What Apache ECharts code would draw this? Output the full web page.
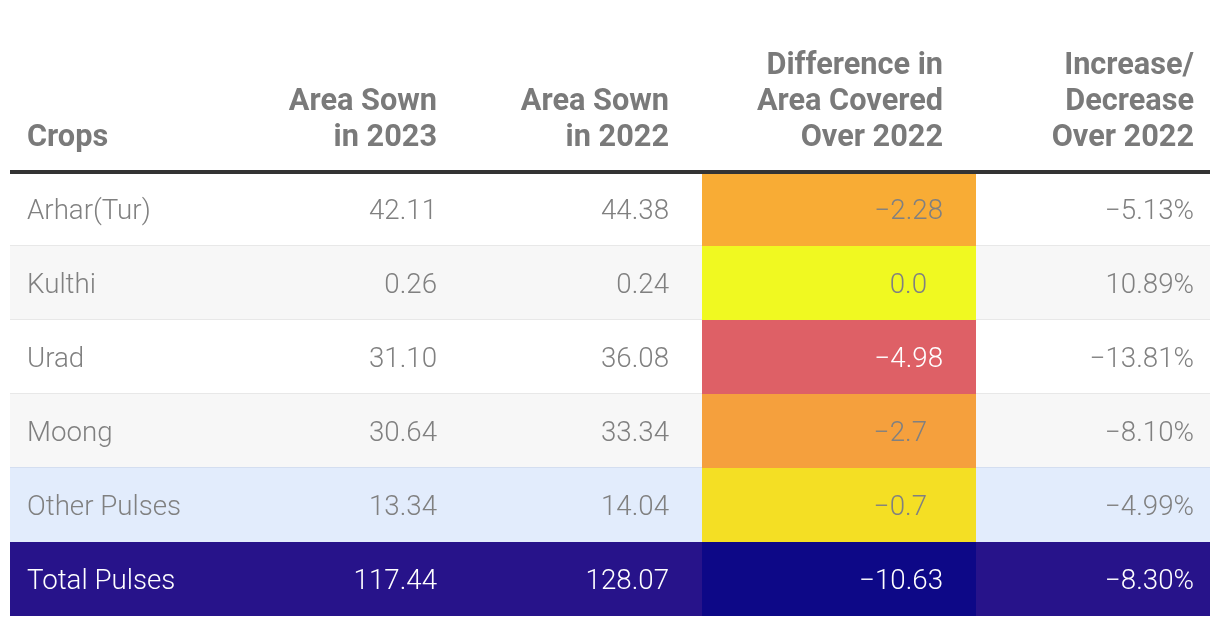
<!DOCTYPE html>
<html>
<head>
<meta charset="utf-8">
<script src="https://cdn.jsdelivr.net/npm/echarts@6/dist/echarts.min.js"></script>
<style>
html,body{margin:0;padding:0;background:#fff;}
#chart{width:1220px;height:626px;}
</style>
</head>
<body>
<div id="chart"></div>
<script>
// ---- data ----
var crops = ['Arhar(Tur)', 'Kulthi', 'Urad', 'Moong', 'Other Pulses', 'Total Pulses'];
var areaSown2023 = [42.11, 0.26, 31.10, 30.64, 13.34, 117.44];
var areaSown2022 = [44.38, 0.24, 36.08, 33.34, 14.04, 128.07];
var diffOver2022 = [-2.28, 0.0, -4.98, -2.7, -0.7, -10.63];
var pctChange = [-5.13, 10.89, -13.81, -8.10, -4.99, -8.30];
var headers = [
  'Crops',
  'Area Sown\nin 2023',
  'Area Sown\nin 2022',
  'Difference in\nArea Covered\nOver 2022',
  'Increase/\nDecrease\nOver 2022'
];

// ---- styles ----
var rowBg = ['#ffffff', '#f7f7f7', '#ffffff', '#f7f7f7', '#e2ecfc', '#27138a'];
var rowSep = ['#e8e8e8', '#e8e8e8', '#e8e8e8', '#d4def0', null, null];
var heatColors = ['#f8ac35', '#f0f921', '#de6066', '#f5a03d', '#f4df24', '#0d0887'];
var heatText = ['#808080', '#808080', '#ffffff', '#808080', '#808080', '#ffffff'];
var MINUS = '\u2212';

function fmt2(v) { return (v < 0 ? MINUS : '') + Math.abs(v).toFixed(2); }
function fmtDiff(v) {
  var oneDec = Math.abs(Math.round(v * 10) - v * 10) < 1e-9;
  return { text: (v < 0 ? MINUS : '') + Math.abs(v).toFixed(oneDec ? 1 : 2), pad: oneDec };
}
function fmtPct(v) { return (v < 0 ? MINUS : '') + Math.abs(v).toFixed(2) + '%'; }

var tableData = crops.map(function (c, i) {
  return [i, areaSown2023[i], areaSown2022[i], diffOver2022[i], pctChange[i]];
});

var chart = echarts.init(document.getElementById('chart'), null, { renderer: 'canvas' });

var bodyFont = '300 27.7px Roboto';
var headFont = 'bold 30.7px Roboto';

function renderRow(params, api) {
  var i = api.value(0);
  var cs = params.coordSys;
  var center = api.coord([0, i]);
  var h = api.size([0, 1])[1];
  var x0 = cs.x, W = cs.width;
  var top = center[1] - h / 2;
  var cy = center[1] + 3.5;
  var isTotal = i === crops.length - 1;
  var txtColor = isTotal ? '#ffffff' : '#808080';
  var d = fmtDiff(api.value(3));
  var children = [
    { type: 'rect', shape: { x: x0, y: top, width: W, height: h }, style: { fill: rowBg[i] } }
  ];
  if (rowSep[i]) {
    children.push({ type: 'rect', shape: { x: x0, y: top + h - 1, width: W, height: 2 }, style: { fill: rowSep[i] } });
  }
  children.push({ type: 'rect', shape: { x: x0 + 692, y: top, width: 274, height: h }, style: { fill: heatColors[i] } });
  children.push({ type: 'text', style: { text: crops[i], x: x0 + 17, y: cy, align: 'left', verticalAlign: 'middle', fill: txtColor, font: bodyFont } });
  children.push({ type: 'text', style: { text: fmt2(api.value(1)), x: x0 + 427, y: cy, align: 'right', verticalAlign: 'middle', fill: txtColor, font: bodyFont } });
  children.push({ type: 'text', style: { text: fmt2(api.value(2)), x: x0 + 659, y: cy, align: 'right', verticalAlign: 'middle', fill: txtColor, font: bodyFont } });
  children.push({ type: 'text', style: { text: d.text, x: x0 + 933 - (d.pad ? 16 : 0), y: cy, align: 'right', verticalAlign: 'middle', fill: heatText[i], font: bodyFont } });
  children.push({ type: 'text', style: { text: fmtPct(api.value(4)), x: x0 + 1184, y: cy, align: 'right', verticalAlign: 'middle', fill: txtColor, font: bodyFont } });
  return { type: 'group', children: children };
}

var headerRight = [27, 437, 669, 943, 1194];
var graphics = headers.map(function (t, k) {
  var lines = t.split('\n').length;
  return {
    type: 'text',
    x: headerRight[k],
    y: 156 - lines * 36,
    style: { text: t, font: headFont, fill: '#7a7a7a', lineHeight: 36, align: k === 0 ? 'left' : 'right', verticalAlign: 'top' }
  };
});
graphics.push({ type: 'rect', x: 10, y: 170, shape: { width: 1200, height: 4 }, style: { fill: '#333333' }, z: 100 });

chart.setOption({
  animation: false,
  backgroundColor: '#ffffff',
  grid: { left: 10, right: 10, top: 172, bottom: 10 },
  xAxis: { type: 'value', min: 0, max: 1, show: false },
  yAxis: { type: 'category', data: crops, inverse: true, show: false },
  graphic: graphics,
  series: [{
    type: 'custom',
    renderItem: renderRow,
    data: tableData,
    encode: { x: -1, y: 0 },
    silent: true
  }]
});
</script>
</body>
</html>
